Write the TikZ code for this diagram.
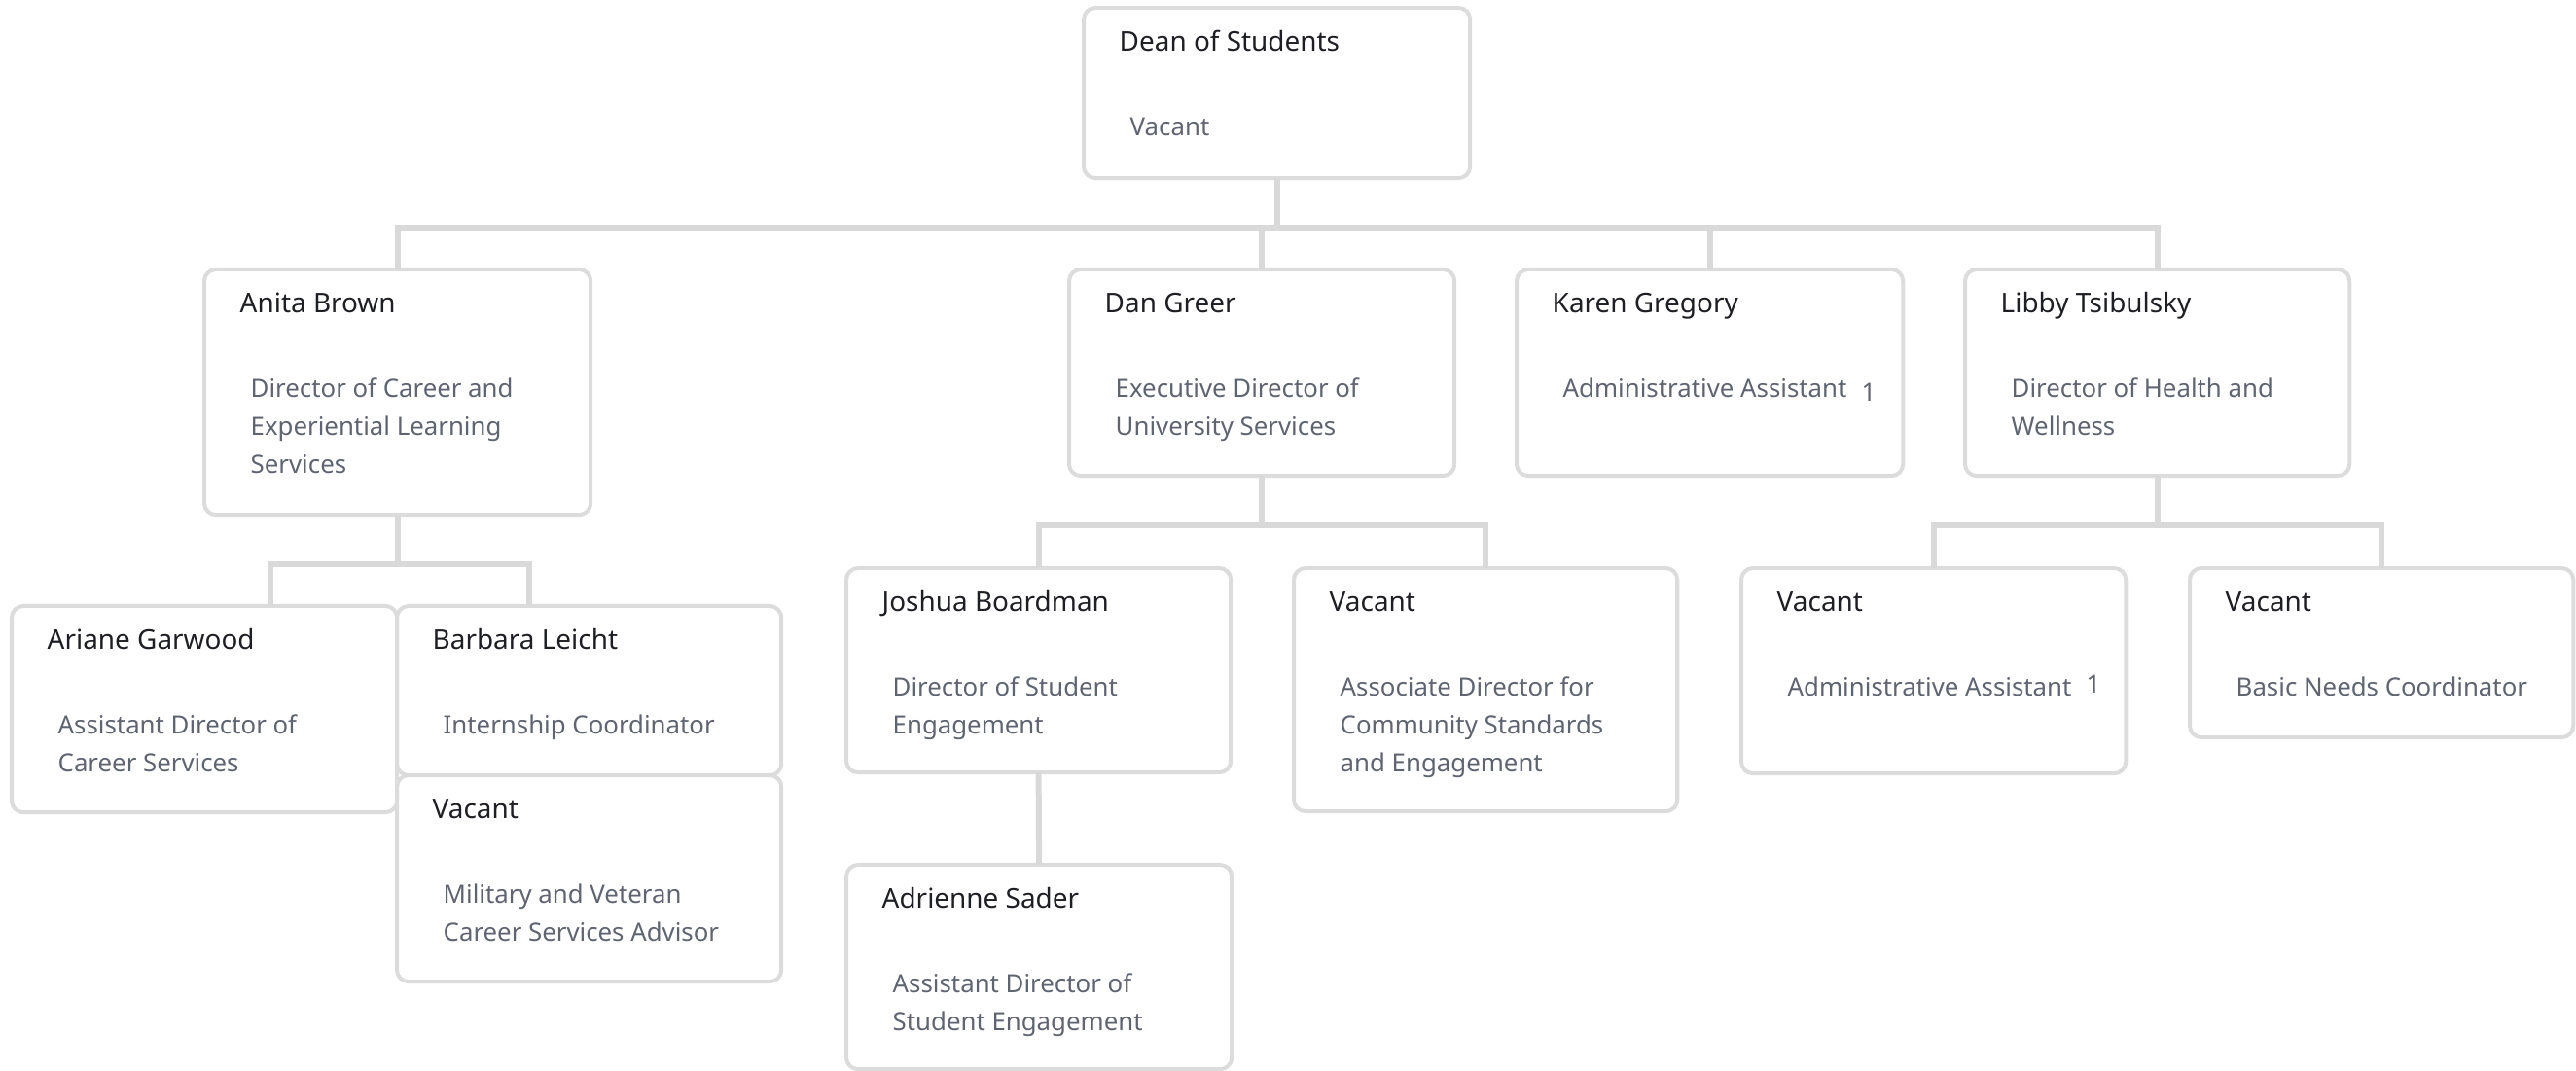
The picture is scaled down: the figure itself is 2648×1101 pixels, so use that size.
\documentclass[tikz,border=0pt]{standalone}
\usepackage{fontspec}
\setmainfont{Noto Sans}
\usepackage{tikz}
\usetikzlibrary{calc}
\usetikzlibrary{positioning}
\definecolor{namecol}{HTML}{1E1F24}
\definecolor{titlecol}{HTML}{5F6471}
\definecolor{boxcol}{HTML}{DCDCDC}
\definecolor{linkcol}{HTML}{D9D9D9}
\newcommand{\rolelines}[1]{\begin{tabular}[t]{@{}l@{}}#1\end{tabular}}
\tikzset{
  person/.style = {rectangle, draw = boxcol, line width = 0.04cm, rounded corners = 0.12cm,
                   inner sep = 0, outer sep = 0, anchor = north west},
  nametext/.style = {inner sep = 0, anchor = base west, text = namecol,
                   font = \fontsize{7.94pt}{9.5pt}\selectfont},
  roletext/.style = {inner sep = 0, anchor = base west, text = titlecol,
                   font = \fontsize{7.34pt}{10.95pt}\selectfont},
  link/.style   = {draw = linkcol, line width = 0.06cm}
}

\begin{document}
\begin{tikzpicture}[x = 0.01cm, y = -0.01cm]
\useasboundingbox (0, 0) rectangle (2648, 1101);

% boxes
\node [person, minimum width = 3.97cm, minimum height = 1.75cm] (dean) at (1114, 8) {};
\node [person, minimum width = 3.97cm, minimum height = 2.52cm] (anita) at (210, 277) {};
\node [person, minimum width = 3.96cm, minimum height = 2.12cm] (dan) at (1099, 277) {};
\node [person, minimum width = 3.97cm, minimum height = 2.12cm] (karen) at (1559, 277) {};
\node [person, minimum width = 3.95cm, minimum height = 2.12cm] (libby) at (2020, 277) {};
\node [person, minimum width = 3.96cm, minimum height = 2.12cm] (ariane) at (12, 623) {};
\node [person, minimum width = 3.95cm, minimum height = 1.74cm] (barbara) at (408, 623) {};
\node [person, minimum width = 3.95cm, minimum height = 2.12cm] (veteran) at (408, 797) {};
\node [person, minimum width = 3.95cm, minimum height = 2.10cm] (joshua) at (870, 584) {};
\node [person, minimum width = 3.96cm, minimum height = 2.10cm] (adrienne) at (870, 889) {};
\node [person, minimum width = 3.94cm, minimum height = 2.50cm] (assoc) at (1330, 584) {};
\node [person, minimum width = 3.95cm, minimum height = 2.11cm] (hwadmin) at (1790, 584) {};
\node [person, minimum width = 3.94cm, minimum height = 1.74cm] (needs) at (2251, 584) {};

% names and titles
\node [nametext] (dean-n) at ([shift = {(36, 45)}]dean.north west) {Dean of Students};
\node [roletext] (dean-t) at ([shift = {(47, 132)}]dean.north west) {Vacant};
\node [nametext] (anita-n) at ([shift = {(36, 45)}]anita.north west) {Anita Brown};
\node [roletext] (anita-t) at ([shift = {(47, 132)}]anita.north west) {\rolelines{Director of Career and\\Experiential Learning\\Services}};
\node [nametext] (dan-n) at ([shift = {(36, 45)}]dan.north west) {Dan Greer};
\node [roletext] (dan-t) at ([shift = {(47, 132)}]dan.north west) {\rolelines{Executive Director of\\University Services}};
\node [nametext] (karen-n) at ([shift = {(36, 45)}]karen.north west) {Karen Gregory};
\node [roletext] (karen-t) at ([shift = {(47, 132)}]karen.north west) {Administrative Assistant\hspace{4.3pt}\raisebox{-1pt}{1}};
\node [nametext] (libby-n) at ([shift = {(36, 45)}]libby.north west) {Libby Tsibulsky};
\node [roletext] (libby-t) at ([shift = {(47, 132)}]libby.north west) {\rolelines{Director of Health and\\Wellness}};
\node [nametext] (ariane-n) at ([shift = {(36, 45)}]ariane.north west) {Ariane Garwood};
\node [roletext] (ariane-t) at ([shift = {(47, 132)}]ariane.north west) {\rolelines{Assistant Director of\\Career Services}};
\node [nametext] (barbara-n) at ([shift = {(36, 45)}]barbara.north west) {Barbara Leicht};
\node [roletext] (barbara-t) at ([shift = {(47, 132)}]barbara.north west) {Internship Coordinator};
\node [nametext] (veteran-n) at ([shift = {(36, 45)}]veteran.north west) {Vacant};
\node [roletext] (veteran-t) at ([shift = {(47, 132)}]veteran.north west) {\rolelines{Military and Veteran\\Career Services Advisor}};
\node [nametext] (joshua-n) at ([shift = {(36, 45)}]joshua.north west) {Joshua Boardman};
\node [roletext] (joshua-t) at ([shift = {(47, 132)}]joshua.north west) {\rolelines{Director of Student\\Engagement}};
\node [nametext] (adrienne-n) at ([shift = {(36, 45)}]adrienne.north west) {Adrienne Sader};
\node [roletext] (adrienne-t) at ([shift = {(47, 132)}]adrienne.north west) {\rolelines{Assistant Director of\\Student Engagement}};
\node [nametext] (assoc-n) at ([shift = {(36, 45)}]assoc.north west) {Vacant};
\node [roletext] (assoc-t) at ([shift = {(47, 132)}]assoc.north west) {\rolelines{Associate Director for\\Community Standards\\and Engagement}};
\node [nametext] (hwadmin-n) at ([shift = {(36, 45)}]hwadmin.north west) {Vacant};
\node [roletext] (hwadmin-t) at ([shift = {(47, 132)}]hwadmin.north west) {Administrative Assistant\hspace{4.3pt}\raisebox{1pt}{1}};
\node [nametext] (needs-n) at ([shift = {(36, 45)}]needs.north west) {Vacant};
\node [roletext] (needs-t) at ([shift = {(47, 132)}]needs.north west) {Basic Needs Coordinator};

% connectors
\coordinate (top-bus) at (0, 234);
\coordinate (career-bus) at (0, 580);
\coordinate (service-bus) at (0, 540);
\coordinate (ag-in) at (278, 623);
\coordinate (bl-in) at (544, 623);
\draw [link] (dean.south) -- (dean.south |- top-bus);
\draw [link] (anita.north) |- (libby.north |- top-bus) -- (libby.north);
\draw [link] (dan.north) -- (dan.north |- top-bus);
\draw [link] (karen.north) -- (karen.north |- top-bus);
\draw [link] (anita.south) -- (anita.south |- career-bus);
\draw [link] (ag-in) |- (bl-in |- career-bus) -- (bl-in);
\draw [link] (dan.south) -- (dan.south |- service-bus);
\draw [link] (joshua.north) |- (assoc.north |- service-bus) -- (assoc.north);
\draw [link] (joshua.south) -- (adrienne.north);
\draw [link] (libby.south) -- (libby.south |- service-bus);
\draw [link] (hwadmin.north) |- (needs.north |- service-bus) -- (needs.north);
\end{tikzpicture}
\end{document}
